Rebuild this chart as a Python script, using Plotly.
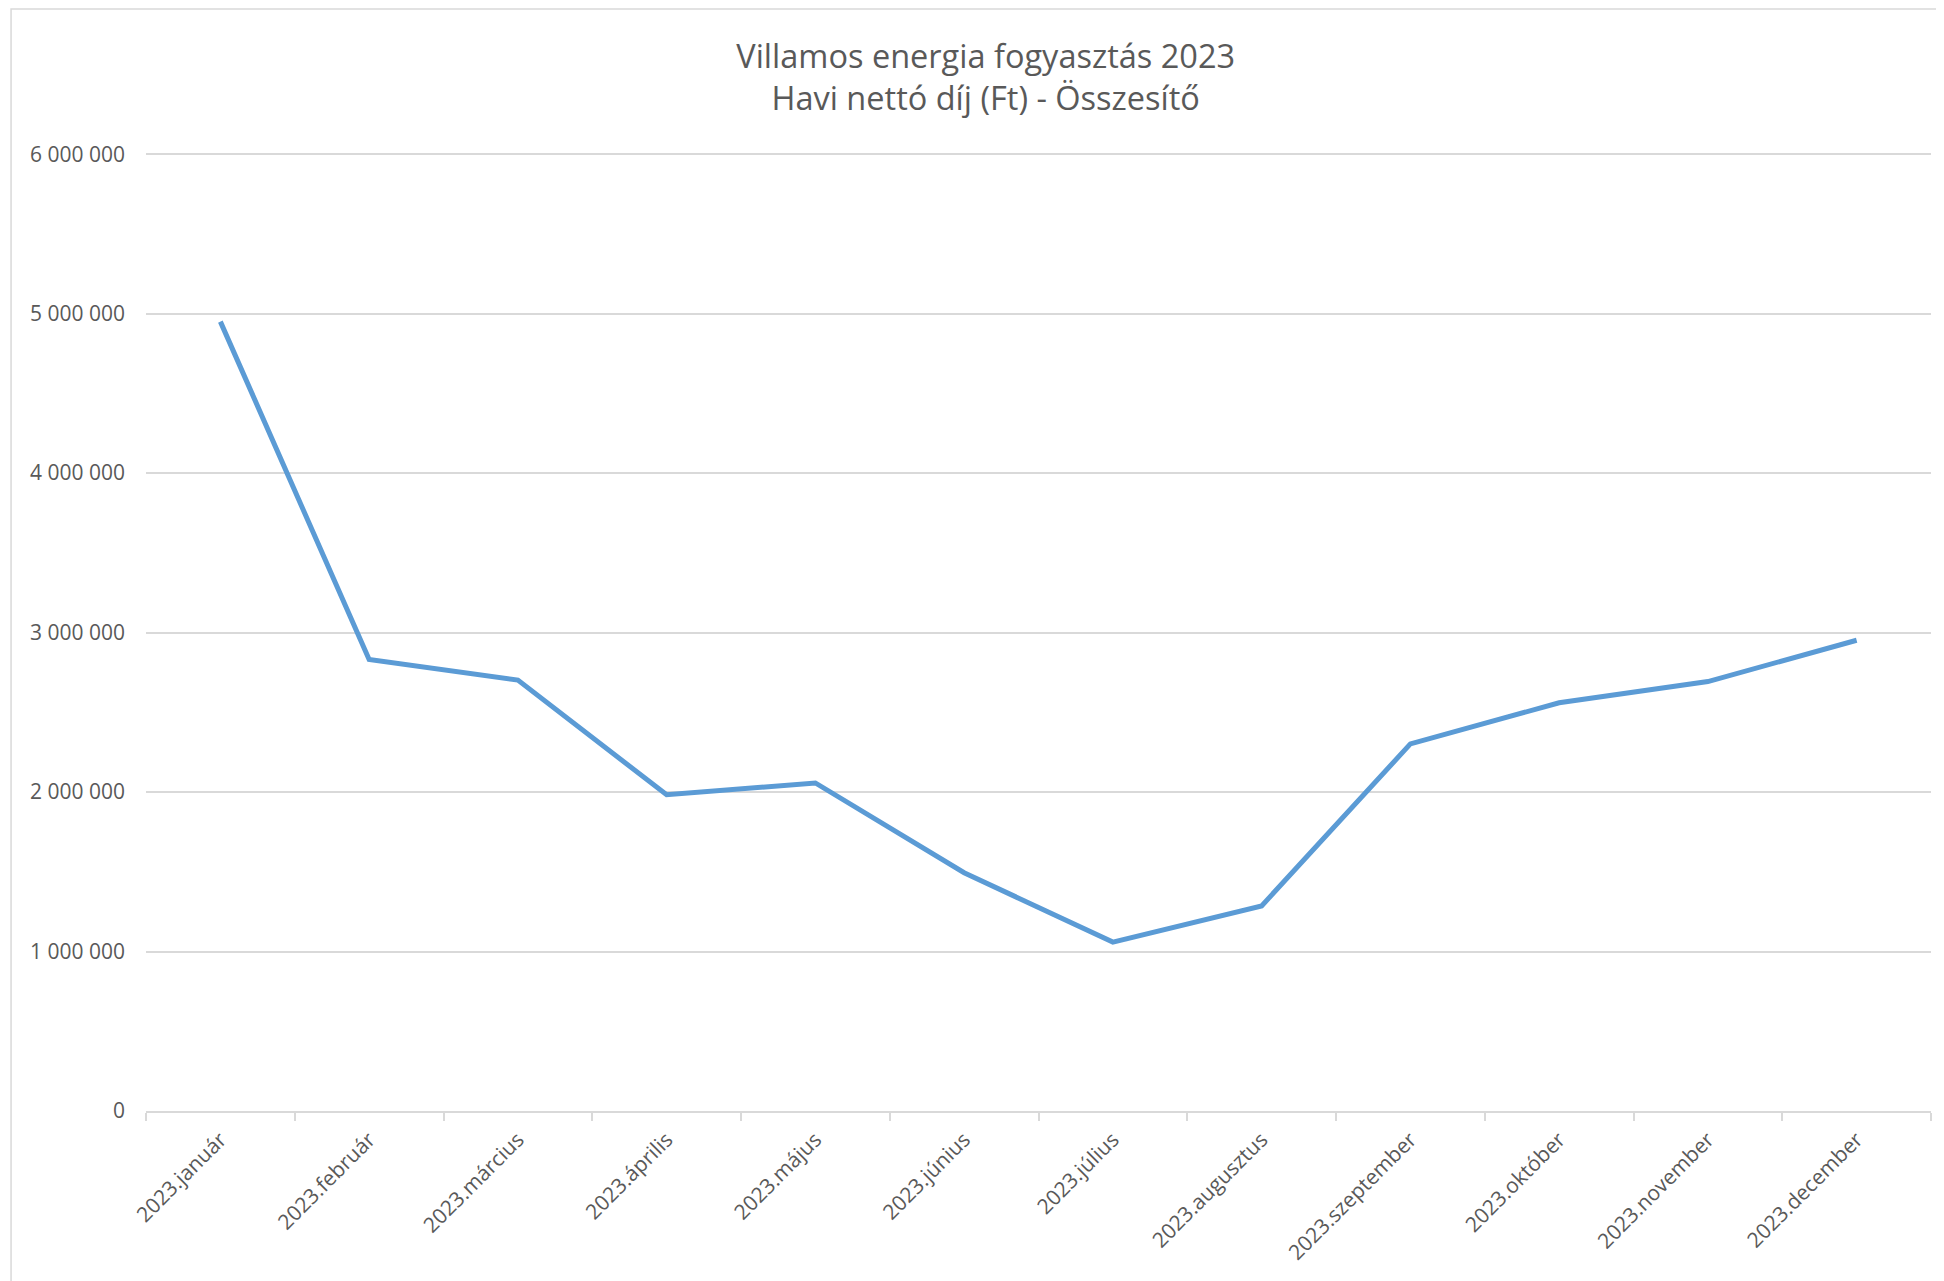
"""
Villamos energia fogyasztás 2023 - havi nettó díj (Ft) összesítő vonaldiagram.

Használat:
    python plot.py
"""

# =============================================================================
# IMPORTOK
# =============================================================================
import plotly.graph_objects as go

# =============================================================================
# ADATOK
# =============================================================================
HONAPOK = [
    '2023.január', '2023.február', '2023.március', '2023.április',
    '2023.május', '2023.június', '2023.július', '2023.augusztus',
    '2023.szeptember', '2023.október', '2023.november', '2023.december',
]

NETTO_DIJ = [
    4950000, 2831000, 2702000, 1983000,
    2057000, 1494000, 1059000, 1286000,
    2302000, 2560000, 2693000, 2952000,
]

Y_TICKEK = [0, 1000000, 2000000, 3000000, 4000000, 5000000, 6000000]

CIM = "Villamos energia fogyasztás 2023<br>Havi nettó díj (Ft) - Összesítő"

# =============================================================================
# STÍLUS
# =============================================================================
BETU = "Open Sans, Calibri, sans-serif"
SZURKE_SZOVEG = "#595959"
SZURKE_VONAL = "#d9d9d9"
KEK = "#5b9bd5"


# =============================================================================
# FÜGGVÉNYEK
# =============================================================================
def generar_grafico():
    fig = go.Figure()
    fig.add_trace(go.Scatter(
        x=HONAPOK,
        y=NETTO_DIJ,
        mode="lines",
        line=dict(color=KEK, width=5),
        hovertemplate="%{x}: %{y:,d} Ft<extra></extra>",
        showlegend=False,
    ))

    # a böngésző 8 px-es body margója miatt kicsit kisebb a vászon
    fig.update_layout(
        width=1936,
        height=1273,
        paper_bgcolor="white",
        plot_bgcolor="white",
        separators=", ",
        margin={"l": 138, "r": 13, "t": 143, "b": 170},
        font=dict(family=BETU, color=SZURKE_SZOVEG, size=21),
        title=dict(
            text=CIM,
            x=0.505,
            xanchor="center",
            y=0.953,
            yanchor="middle",
            font=dict(family=BETU, size=32.5, color=SZURKE_SZOVEG),
        ),
        # külső keret, mint az Excel diagramterületén
        shapes=[dict(
            type="rect", xref="paper", yref="paper",
            x0=-0.0756, x1=1.03, y0=-0.2, y1=1.148,
            line=dict(color=SZURKE_VONAL, width=1.5),
            fillcolor="rgba(0,0,0,0)",
            layer="below",
        )],
    )

    fig.update_xaxes(
        type="category",
        range=[-0.5, len(HONAPOK) - 0.5],
        tickson="boundaries",
        ticks="outside",
        ticklen=8,
        tickwidth=2,
        tickcolor=SZURKE_VONAL,
        tickangle=-45,
        ticklabelstandoff=6,
        showline=True,
        linecolor=SZURKE_VONAL,
        linewidth=2,
        showgrid=False,
        zeroline=False,
        tickfont=dict(size=21, color=SZURKE_SZOVEG),
    )
    fig.update_yaxes(
        range=[0, 6020000],
        tickvals=Y_TICKEK,
        tickformat=",d",
        showgrid=True,
        gridcolor=SZURKE_VONAL,
        gridwidth=2,
        zeroline=False,
        showline=False,
        ticks="",
        ticklabelstandoff=20,
        tickfont=dict(size=21, color=SZURKE_SZOVEG),
    )
    return fig


# =============================================================================
# BELÉPÉSI PONT
# =============================================================================
def main():
    fig = generar_grafico()
    fig.write_html("out.html")


if __name__ == "__main__":
    main()
